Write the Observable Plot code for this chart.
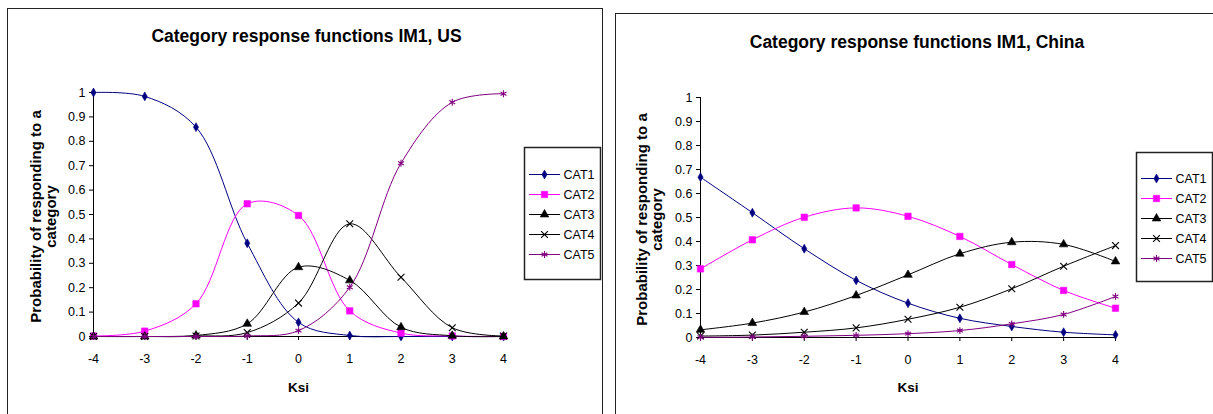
<!DOCTYPE html>
<html><head><meta charset="utf-8">
<script src="https://cdn.jsdelivr.net/npm/d3@7"></script>
<script src="https://cdn.jsdelivr.net/npm/@observablehq/plot@0.6"></script>
<style>
html,body{margin:0;padding:0;background:#fff;}
body{width:1213px;height:414px;overflow:hidden;position:relative;font-family:"Liberation Sans",Arial,sans-serif;}
.box{position:absolute;border:1.5px solid #222;background:#fff;box-sizing:border-box;}
.abs{position:absolute;}
.abs svg{max-width:none;}
</style></head><body>
<div class="box" style="left:7px;top:8px;width:596px;height:430px"></div>
<div class="box" style="left:615px;top:13px;width:620px;height:430px"></div>
<div id="root"></div>
<script>
// ---- data ----
const ksi = [-4, -3, -2, -1, 0, 1, 2, 3, 4];
const categories = ["CAT1", "CAT2", "CAT3", "CAT4", "CAT5"];
const yTicks = [0, 0.1, 0.2, 0.3, 0.4, 0.5, 0.6, 0.7, 0.8, 0.9, 1];

const usCAT1 = [1.0, 0.984, 0.858, 0.382, 0.058, 0.004, 0.0, 0.0, 0.0];
const usCAT2 = [0.002, 0.022, 0.134, 0.544, 0.496, 0.105, 0.014, 0.002, 0.0];
const usCAT3 = [0.0, 0.0, 0.004, 0.052, 0.284, 0.23, 0.038, 0.003, 0.0];
const usCAT4 = [0.0, 0.0, 0.002, 0.016, 0.137, 0.462, 0.243, 0.036, 0.002];
const usCAT5 = [0.0, 0.0, 0.0, 0.002, 0.024, 0.202, 0.71, 0.96, 0.995];

const cnCAT1 = [0.668, 0.52, 0.37, 0.238, 0.143, 0.08, 0.046, 0.022, 0.011];
const cnCAT2 = [0.286, 0.407, 0.501, 0.54, 0.505, 0.421, 0.304, 0.196, 0.122];
const cnCAT3 = [0.032, 0.06, 0.106, 0.175, 0.261, 0.349, 0.397, 0.388, 0.317];
const cnCAT4 = [0.006, 0.01, 0.022, 0.04, 0.076, 0.126, 0.203, 0.297, 0.383];
const cnCAT5 = [0.001, 0.002, 0.005, 0.009, 0.016, 0.029, 0.057, 0.096, 0.171];

const titleUS = "Category response functions IM1, US";
const titleCN = "Category response functions IM1, China";
const xLabel = "Ksi";
const yLabel = "Probability of responding to a\ncategory";

// ---- styles ----
const seriesStyle = {
  CAT1: {color: "#000080", symbol: "diamond", r: 2.7, filled: true},
  CAT2: {color: "#FF00FF", symbol: "square", r: 3.6, filled: true},
  CAT3: {color: "#000000", symbol: "triangle", r: 3.2, filled: true},
  CAT4: {color: "#000000", symbol: "times", r: 3.2, filled: false},
  CAT5: {color: "#800080", symbol: "asterisk", r: 3.2, filled: false}
};
const baseStyle = {background: "transparent", fontFamily: "'Liberation Sans', Arial, sans-serif", fontSize: "12px", color: "#000", overflow: "visible"};

function place(node, left, top, w) {
  const d = document.createElement("div");
  d.className = "abs";
  d.style.left = left + "px"; d.style.top = top + "px"; d.style.width = w + "px";
  d.appendChild(node);
  document.getElementById("root").appendChild(d);
}

function makeChart(cfg) {
  const marks = [
    Plot.ruleY([0], {stroke: "#000", strokeWidth: 1}),
    Plot.ruleX([-4], {stroke: "#000", strokeWidth: 1}),
    Plot.axisY({ticks: yTicks, tickSize: 4, tickPadding: 4, tickFormat: d => String(d), label: null, fontSize: 12.5}),
    Plot.axisX({ticks: ksi, tickSize: 4, tickPadding: 14, tickFormat: d => String(d), label: null, fontSize: 12.5})
  ];
  categories.forEach((c, i) => {
    const st = seriesStyle[c];
    const data = ksi.map((k, j) => ({ksi: k, p: cfg.series[i][j]}));
    marks.push(Plot.line(data, {x: "ksi", y: "p", stroke: st.color, strokeWidth: 1, curve: "catmull-rom"}));
    marks.push(Plot.dot(data, {x: "ksi", y: "p", symbol: st.symbol, r: st.r,
      fill: st.filled ? st.color : "none", stroke: st.color, strokeWidth: st.filled ? 0.6 : 1.1}));
  });
  marks.push(Plot.text([cfg.title], {frameAnchor: "top", textAnchor: "middle", lineAnchor: "bottom", dx: cfg.titleDx, dy: cfg.titleDy, fontSize: 17.5, fontWeight: "bold"}));
  marks.push(Plot.text([xLabel], {frameAnchor: "bottom", textAnchor: "middle", lineAnchor: "middle", dy: cfg.xLabDy, fontSize: 13.5, fontWeight: "bold"}));
  marks.push(Plot.text([yLabel], {frameAnchor: "left", textAnchor: "middle", lineAnchor: "middle", rotate: -90, dx: cfg.yLabDx, dy: 2, fontSize: 15, fontWeight: "bold", lineHeight: 1}));
  return Plot.plot({
    width: cfg.width, height: cfg.height,
    marginLeft: cfg.ml, marginRight: cfg.mr, marginTop: cfg.mt, marginBottom: cfg.mb,
    x: {domain: [-4, 4], axis: null},
    y: {domain: [0, 1], axis: null},
    marks, style: baseStyle
  });
}

function makeLegend(cfg) {
  const marks = [Plot.frame({stroke: "#222", strokeWidth: 1.5})];
  categories.forEach(c => {
    const st = seriesStyle[c];
    marks.push(Plot.ruleY([c], {x1: 5, x2: 36, stroke: st.color, strokeWidth: 1}));
    marks.push(Plot.dot([c], {x: 20, y: d => d, symbol: st.symbol, r: st.r,
      fill: st.filled ? st.color : "none", stroke: st.color, strokeWidth: st.filled ? 0.6 : 1.1}));
  });
  marks.push(Plot.text(categories, {x: 39, y: d => d, textAnchor: "start", fontSize: 12.5}));
  return Plot.plot({
    width: cfg.width, height: cfg.height, margin: 0,
    x: {domain: [0, cfg.width], range: [0, cfg.width], axis: null},
    y: {type: "point", domain: categories, range: cfg.rows, axis: null},
    marks, style: baseStyle
  });
}

// US chart
place(makeChart({
  series: [usCAT1, usCAT2, usCAT3, usCAT4, usCAT5], title: titleUS,
  width: 603, height: 414, ml: 93, mr: 100, mt: 92, mb: 78,
  titleDx: 8, titleDy: -51, xLabDy: 51, yLabDx: -50
}), 0, 0, 603);
place(makeLegend({width: 76, height: 132, rows: [15, 119]}), 524, 147, 76);

// China chart
place(makeChart({
  series: [cnCAT1, cnCAT2, cnCAT3, cnCAT4, cnCAT5], title: titleCN,
  width: 603, height: 414, ml: 90, mr: 98, mt: 97, mb: 77,
  titleDx: 9, titleDy: -50, xLabDy: 50, yLabDx: -51
}), 610, 0, 603);
place(makeLegend({width: 76, height: 129, rows: [14, 117]}), 1136, 152, 76);
</script>
</body></html>
